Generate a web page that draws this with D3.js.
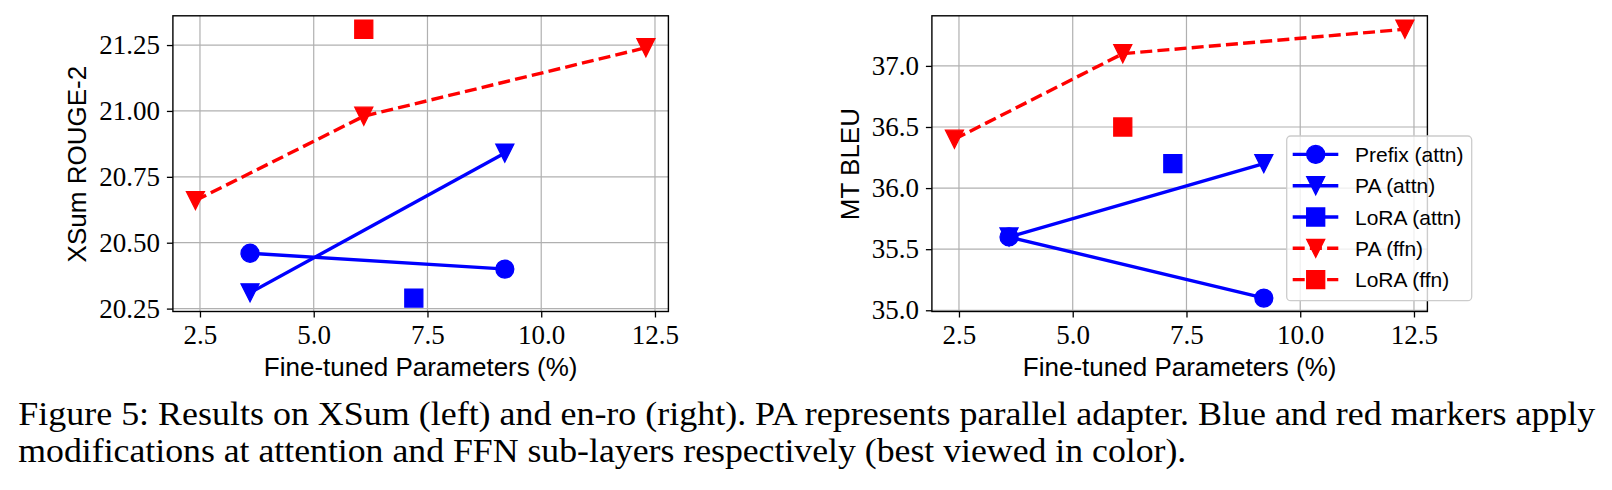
<!DOCTYPE html>
<html>
<head>
<meta charset="utf-8">
<script src="https://cdn.jsdelivr.net/npm/d3@7"></script>
<style>
  html, body { margin: 0; padding: 0; background: #fff; }
  svg { display: block; }
</style>
</head>
<body>
<svg id="chart" width="1612" height="490"></svg>
<script>
// ---------------- DATA ----------------
const xTickValues = [2.5, 5.0, 7.5, 10.0, 12.5];
const xsumYTicks = [20.25, 20.50, 20.75, 21.00, 21.25];
const bleuYTicks = [35.0, 35.5, 36.0, 36.5, 37.0];

const seriesNames = ["Prefix (attn)", "PA (attn)", "LoRA (attn)", "PA (ffn)", "LoRA (ffn)"];

const prefixAttnX = [3.6, 9.2];
const paAttnX = [3.6, 9.2];
const loraAttnX = [7.2];
const paFfnX = [2.4, 6.1, 12.3];
const loraFfnX = [6.1];

// XSum ROUGE-2 (left)
const xsumPrefixAttn = [20.46, 20.40];
const xsumPaAttn = [20.31, 20.84];
const xsumLoraAttn = [20.29];
const xsumPaFfn = [20.66, 20.98, 21.24];
const xsumLoraFfn = [21.31];

// MT BLEU (right)
const bleuPrefixAttn = [35.6, 35.1];
const bleuPaAttn = [35.6, 36.2];
const bleuLoraAttn = [36.2];
const bleuPaFfn = [36.4, 37.1, 37.3];
const bleuLoraFfn = [36.5];

const xLabel = "Fine-tuned Parameters (%)";
const captionLines = [
  "Figure 5: Results on XSum (left) and en-ro (right). PA represents parallel adapter. Blue and red markers apply",
  "modifications at attention and FFN sub-layers respectively (best viewed in color)."
];

// ---------------- STYLE / LAYOUT ----------------
const BLUE = "#0000ff", RED = "#ff0000";
const seriesStyle = [
  { color: BLUE, marker: "circle", dashed: false },
  { color: BLUE, marker: "tri", dashed: false },
  { color: BLUE, marker: "square", dashed: false },
  { color: RED, marker: "tri", dashed: true },
  { color: RED, marker: "square", dashed: true }
];
const seriesX = [prefixAttnX, paAttnX, loraAttnX, paFfnX, loraFfnX];

const panels = [
  { left: 172.9, right: 668.4, ylabel: "XSum ROUGE-2", yTicks: xsumYTicks, fmt: d3.format(".2f"),
    ys: [xsumPrefixAttn, xsumPaAttn, xsumLoraAttn, xsumPaFfn, xsumLoraFfn], ylabelX: 86, legend: false },
  { left: 931.9, right: 1427.4, ylabel: "MT BLEU", yTicks: bleuYTicks, fmt: d3.format(".1f"),
    ys: [bleuPrefixAttn, bleuPaAttn, bleuLoraAttn, bleuPaFfn, bleuLoraFfn], ylabelX: 858.5, legend: true }
];
const TOP = 15.8, BOTTOM = 311.5;
const MS = 18, LW = 3.4, DASH = "12,5.2";
const serif = "'Liberation Serif', 'Times New Roman', serif";
const sans = "'Liberation Sans', Arial, sans-serif";

function markerPath(type, s) {
  const h = s / 2;
  if (type === "circle") return `M${h},0A${h},${h} 0 1,1 ${-h},0A${h},${h} 0 1,1 ${h},0Z`;
  if (type === "tri") return `M0,${h}L${-h},${-h}L${h},${-h}Z`;
  return `M${-h},${-h}H${h}V${h}H${-h}Z`;
}
function padDomain(vals) {
  const [a, b] = d3.extent(vals);
  const m = (b - a) * 0.05;
  return [a - m, b + m];
}

const svg = d3.select("#chart");
const allX = seriesX.flat();

panels.forEach(p => {
  const x = d3.scaleLinear().domain(padDomain(allX)).range([p.left, p.right]);
  const y = d3.scaleLinear().domain(padDomain(p.ys.flat())).range([BOTTOM, TOP]);
  const g = svg.append("g");

  // grid
  g.append("g").selectAll("line").data(xTickValues).join("line")
    .attr("x1", d => x(d)).attr("x2", d => x(d)).attr("y1", TOP).attr("y2", BOTTOM)
    .attr("stroke", "#b0b0b0").attr("stroke-width", 1.2);
  g.append("g").selectAll("line").data(p.yTicks).join("line")
    .attr("x1", p.left).attr("x2", p.right).attr("y1", d => y(d)).attr("y2", d => y(d))
    .attr("stroke", "#b0b0b0").attr("stroke-width", 1.2);

  // series
  const line = d3.line().x(d => x(d[0])).y(d => y(d[1]));
  seriesX.forEach((xs, i) => {
    const st = seriesStyle[i];
    const pts = xs.map((xv, j) => [xv, p.ys[i][j]]);
    if (pts.length > 1) {
      g.append("path").attr("d", line(pts)).attr("fill", "none")
        .attr("stroke", st.color).attr("stroke-width", LW)
        .attr("stroke-linejoin", "round")
        .attr("stroke-linecap", st.dashed ? "butt" : "square")
        .attr("stroke-dasharray", st.dashed ? DASH : null);
    }
    g.append("g").selectAll("path").data(pts).join("path")
      .attr("d", markerPath(st.marker, MS))
      .attr("transform", d => `translate(${x(d[0])},${y(d[1])})`)
      .attr("fill", st.color).attr("stroke", st.color).attr("stroke-width", 1.3);
  });

  // axes
  const xa = g.append("g").attr("transform", `translate(0,${BOTTOM})`)
    .call(d3.axisBottom(x).tickValues(xTickValues).tickFormat(d3.format(".1f")).tickSize(6).tickPadding(7));
  const ya = g.append("g").attr("transform", `translate(${p.left},0)`)
    .call(d3.axisLeft(y).tickValues(p.yTicks).tickFormat(p.fmt).tickSize(6).tickPadding(7));
  [xa, ya].forEach(a => {
    a.select(".domain").remove();
    a.selectAll(".tick line").attr("stroke", "#000").attr("stroke-width", 1.3);
    a.selectAll(".tick text").attr("fill", "#000").style("font-family", serif).style("font-size", "27px");
  });

  // frame
  g.append("rect").attr("x", p.left).attr("y", TOP).attr("width", p.right - p.left).attr("height", BOTTOM - TOP)
    .attr("fill", "none").attr("stroke", "#000").attr("stroke-width", 1.4);

  // labels
  g.append("text").attr("x", (p.left + p.right) / 2).attr("y", 376).attr("text-anchor", "middle")
    .style("font-family", sans).style("font-size", "26px").text(xLabel);
  g.append("text").attr("transform", `translate(${p.ylabelX},${(TOP + BOTTOM) / 2 + 0.5}) rotate(-90)`)
    .attr("text-anchor", "middle").style("font-family", sans).style("font-size", "26px").text(p.ylabel);

  // legend
  if (p.legend) {
    const lg = svg.append("g");
    lg.append("rect").attr("x", 1286.7).attr("y", 136).attr("width", 185).attr("height", 164.7)
      .attr("rx", 4).attr("fill", "#fff").attr("fill-opacity", 0.8)
      .attr("stroke", "#cccccc").attr("stroke-width", 1.3);
    seriesNames.forEach((name, i) => {
      const st = seriesStyle[i];
      const cy = 154.4 + i * 31.3;
      lg.append("line").attr("x1", 1292.7).attr("x2", 1338.3).attr("y1", cy).attr("y2", cy)
        .attr("stroke", st.color).attr("stroke-width", LW)
        .attr("stroke-dasharray", st.dashed ? DASH : null);
      lg.append("path").attr("d", markerPath(st.marker, MS)).attr("transform", `translate(1315.7,${cy})`)
        .attr("fill", st.color).attr("stroke", st.color).attr("stroke-width", 1.3);
      lg.append("text").attr("x", 1355).attr("y", cy + 7.6)
        .style("font-family", sans).style("font-size", "21px").text(name);
    });
  }
});

// caption
const cap = svg.append("g").style("font-family", serif).style("font-size", "33px").attr("fill", "#000");
cap.append("text").attr("x", 18.3).attr("y", 425).attr("textLength", 1577).attr("lengthAdjust", "spacingAndGlyphs").text(captionLines[0]);
cap.append("text").attr("x", 18.3).attr("y", 462).attr("textLength", 1168).attr("lengthAdjust", "spacingAndGlyphs").text(captionLines[1]);
</script>
</body>
</html>
